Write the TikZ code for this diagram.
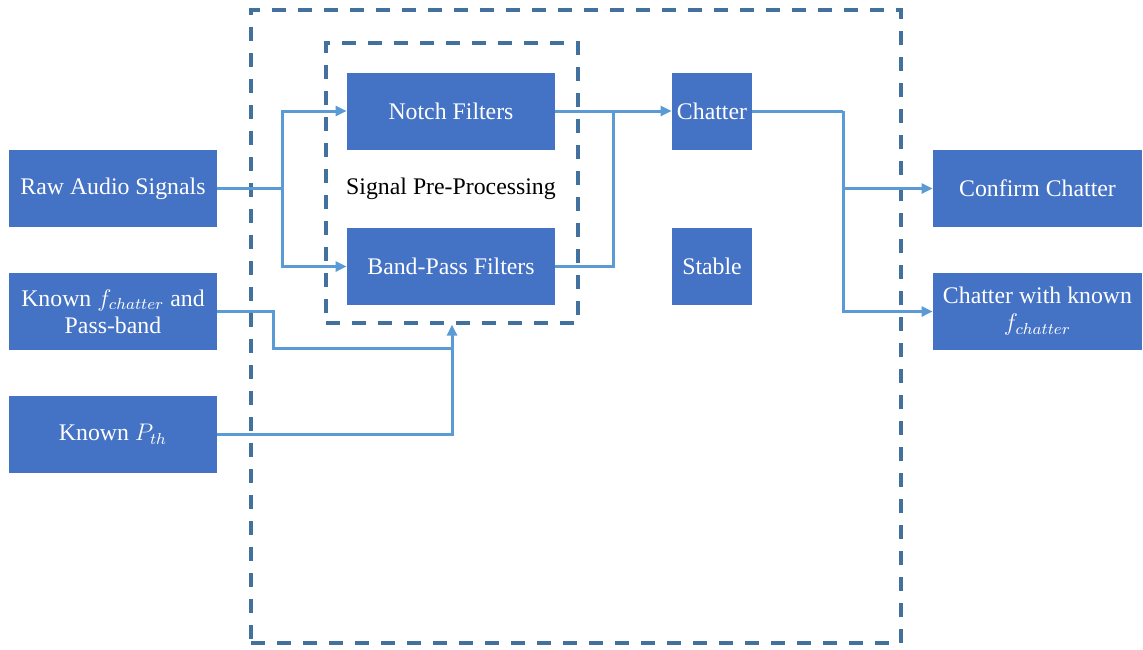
\documentclass[tikz,border=0pt]{standalone}
\usepackage{fontspec}
\setmainfont{Liberation Serif}
\usetikzlibrary{arrows.meta}
\definecolor{boxblue}{HTML}{4472C4}
\definecolor{linkblue}{HTML}{5B9BD5}
\definecolor{frameblue}{HTML}{41719C}
\tikzset{
  block/.style={rectangle, fill=boxblue, text=white, inner sep=0pt,
    minimum width=104pt, minimum height=38.5pt, align=center,
    font=\fontsize{11.9}{13.5}\selectfont},
  smallblock/.style={block, minimum width=40pt},
  link/.style={draw=linkblue, line width=1.5pt},
  arrow/.style={link, -{Triangle[length=5.5pt,width=5pt]}},
  frame/.style={rectangle, draw=frameblue, line width=1.6pt,
    dash pattern=on 7pt off 6pt, inner sep=0pt}
}
\begin{document}
\begin{tikzpicture}[x=0.5pt,y=-0.5pt]
\useasboundingbox (0,0) rectangle (1143,649);

% dashed frames
\node[frame, minimum width=325pt, minimum height=316.5pt] (outer) at (576,326.5) {};
\node[frame, minimum width=126pt, minimum height=140pt] (pre) at (452,183) {};
\node[font=\fontsize{11.9}{13.5}\selectfont] (pretext) at (451,189) {Signal Pre-Processing};

% inputs
\node[block] (raw) at (113,188.5) {Raw Audio Signals};
\node[block] (knownf) at (113,311.5) {Known $f_{chatter}$ and\\Pass-band};
\node[block] (knownp) at (113,434) {Known $P_{th}$};

% filters
\node[block] (notch) at (451,111) {Notch Filters};
\node[block] (band) at (451,266.5) {Band-Pass Filters};

% states
\node[smallblock] (chatter) at (712,111) {Chatter};
\node[smallblock] (stable) at (712,266.5) {Stable};

% outputs
\node[block, minimum width=104.5pt] (confirm) at (1037.5,188.5) {Confirm Chatter};
\node[block, minimum width=104.5pt] (withknown) at (1037.5,311.5) {Chatter with known\\$f_{chatter}$};

% routing points
\coordinate (split) at (282,188.5);
\coordinate (merge) at (613,111);
\coordinate (osplit) at (843,111);
\coordinate (bendf) at (273,311.5);
\coordinate (joinf) at (452,348);

% connectors
\draw[arrow] (raw.east) -- (split) |- (notch.west);
\draw[arrow] (split) |- (band.west);
\draw[arrow] (notch.east) -- (chatter.west);
\draw[link] (band.east) -| (merge);
\draw[link] (chatter.east) -- (osplit);
\draw[arrow] (osplit) |- (confirm.west);
\draw[arrow] (osplit) |- (withknown.west);
\draw[link] (knownf.east) -- (bendf) |- (joinf);
\draw[arrow] (knownp.east) -| (pre.south);
\end{tikzpicture}
\end{document}
